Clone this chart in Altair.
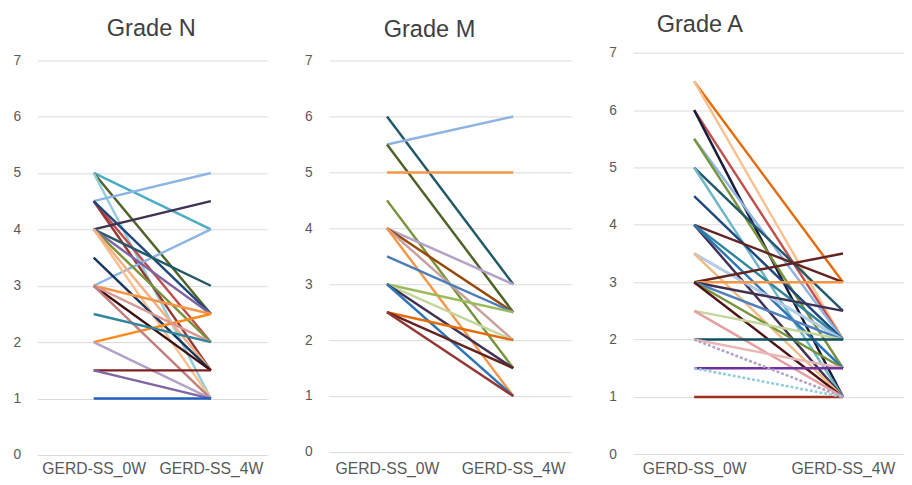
import altair as alt
import pandas as pd

TIME_LABELS = ["GERD-SS_0W", "GERD-SS_4W"]
Y_TICKS = [0, 1, 2, 3, 4, 5, 6, 7]
TITLES = ["Grade N", "Grade M", "Grade A"]

# Grade N: value at 0W, value at 4W, colour per subject
N_START = [5, 5, 5, 4.5, 4.5, 4.5, 4.5, 4, 3, 4, 4, 4, 4, 4, 3.5, 3, 2, 3, 3, 3, 2.5, 2, 1.5, 1.5, 1]
N_END = [4, 2.5, 1, 5, 2, 1.5, 2.5, 4.5, 4, 3, 2.5, 2, 1, 1.5, 1.5, 2.5, 2.5, 1.5, 2, 1, 2, 1, 1.5, 1, 1]
N_COLORS = ["#4BACC6", "#4F6228", "#93CDDD", "#8EB4E3", "#C0504D", "#953735", "#1F497D",
            "#3F3151", "#8EB4E3", "#215968", "#8064A2", "#77933C", "#FAC090", "#F4B183",
            "#17375E", "#F79646", "#FF8A1C", "#3D0F0F", "#D99694", "#C0807D", "#31859C",
            "#B3A2C7", "#7F1F1F", "#8064A2", "#1F5FBF"]

# Grade M
M_START = [6, 5.5, 5.5, 5, 4.5, 4, 4, 4, 4, 3.5, 3, 3, 3, 3, 2.5, 2.5, 2.5]
M_END = [3, 6, 2.5, 5, 1.5, 3, 2.5, 2, 1, 2.5, 2.5, 2, 1.5, 1, 2, 1.5, 1]
M_COLORS = ["#215968", "#8EB4E3", "#4F6228", "#F79646", "#77933C", "#B3A2C7", "#984807",
            "#C9A0A0", "#F79646", "#4A7EBB", "#9BBB59", "#C3D69B", "#403152", "#2E75B6",
            "#E46C0A", "#632523", "#953735"]

# Grade A
A_START = [6.5, 6.5, 6, 6, 5.5, 5.5, 5, 5, 4.5, 4, 4, 4, 4, 3.5, 3.5, 3.5, 3, 3, 3, 3, 3, 3,
           2.5, 2.5, 2, 2, 2, 1.5, 1.5, 1]
A_END = [3, 2, 2, 1, 2, 1.5, 2.5, 1, 2, 3, 2, 1, 1.5, 2, 2, 1, 3.5, 3, 2.5, 2, 1.5, 1,
         2, 1, 2, 1, 1.5, 1.5, 1, 1]
A_COLORS = ["#E46C0A", "#FAC090", "#C0504D", "#1B1B3A", "#8EB4E3", "#77933C", "#215968",
            "#6FB7C7", "#1F497D", "#632523", "#31859C", "#403152", "#2E75B6", "#558ED5",
            "#B9CDE5", "#F2BB85", "#632523", "#F79646", "#3F3151", "#4F81BD", "#77933C",
            "#4F1212", "#C3D69B", "#E6A0A0", "#0F4F5F", "#B3A2C7", "#E6B9B8", "#7030A0",
            "#93CDDD", "#A0311A"]
A_DOTTED = [25, 28]

FONT = "Liberation Sans"


def make_df(starts, ends, colors, dotted):
    rows = []
    for i, (s, e, c) in enumerate(zip(starts, ends, colors)):
        d = 1 if i in dotted else 0
        rows.append({"id": i, "time": TIME_LABELS[0], "value": s, "color": c, "dash": d})
        rows.append({"id": i, "time": TIME_LABELS[1], "value": e, "color": c, "dash": d})
    return pd.DataFrame(rows)


def panel(title, starts, ends, colors, dotted, width, domain, pad, title_dx, title_offset):
    df = make_df(starts, ends, colors, dotted)
    x = alt.X("time:N", sort=TIME_LABELS,
              scale=alt.Scale(type="point", padding=pad, domain=TIME_LABELS),
              axis=alt.Axis(title=None, labelAngle=0, ticks=False, domain=False, grid=False,
                            labelFontSize=16, labelColor="#595959", labelFont=FONT,
                            labelPadding=4))
    y = alt.Y("value:Q", scale=alt.Scale(domain=domain, nice=False, zero=False),
              axis=alt.Axis(values=Y_TICKS, title=None, grid=True, gridColor="#d9d9d9",
                            gridWidth=1, domain=False, ticks=False, labelFontSize=14,
                            labelColor="#595959", labelFont=FONT, labelPadding=17,
                            format="d"))
    base = alt.Chart(df)
    solid = base.transform_filter("datum.dash == 0").mark_line(strokeWidth=2.5).encode(
        x=x, y=y, detail="id:N", color=alt.Color("color:N", scale=None))
    layers = [solid]
    if dotted:
        dots = base.transform_filter("datum.dash == 1").mark_line(
            strokeWidth=2.6, strokeDash=[3, 2]).encode(
            x=x, y=y, detail="id:N", color=alt.Color("color:N", scale=None))
        layers.append(dots)
    return alt.layer(*layers).properties(
        width=width, height=413,
        title=alt.TitleParams(title, fontSize=24, font=FONT, fontWeight="normal",
                              color="#404040", anchor="middle", dx=title_dx,
                              offset=title_offset, baseline="alphabetic"))


pN = panel(TITLES[0], N_START, N_END, N_COLORS, [], 234, [-0.035, 7.15], 0.48, -1, -8.5)
pM = panel(TITLES[1], M_START, M_END, M_COLORS, [], 247, [-0.089, 7.16], 0.46, -21, -9.5)
pA = panel(TITLES[2], A_START, A_END, A_COLORS, A_DOTTED, 276, [-0.047, 7.02], 0.41, -70, -9.5)

chart = alt.hconcat(pN, pM, pA, spacing=63, bounds="flush").properties(
    padding={"left": 5, "top": 0, "right": 0, "bottom": 0}
).configure_view(stroke=None)

chart.save("out.html", embed_options={"renderer": "svg", "actions": False})
